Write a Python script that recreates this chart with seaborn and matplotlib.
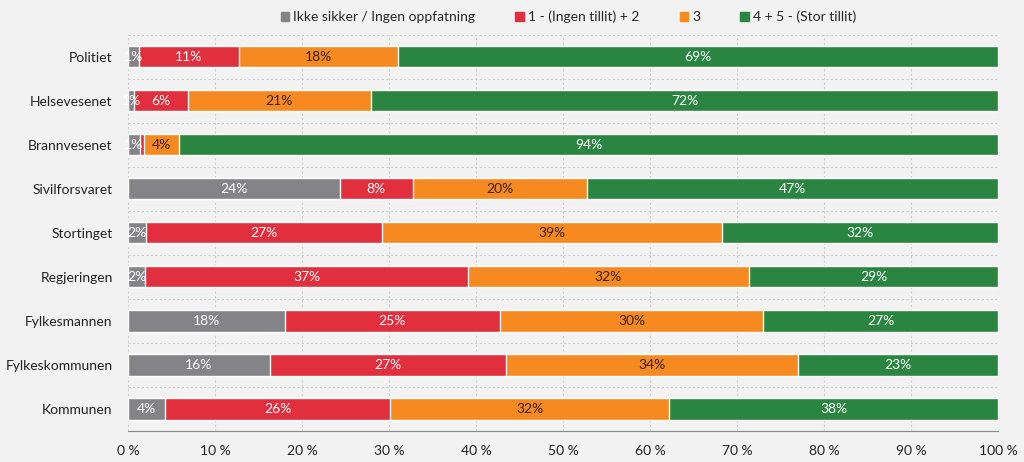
import numpy as np
import matplotlib.pyplot as plt
import pandas as pd
import seaborn as sns
from matplotlib.patches import Patch

categories = ['Politiet', 'Helsevesenet', 'Brannvesenet', 'Sivilforsvaret', 'Stortinget',
              'Regjeringen', 'Fylkesmannen', 'Fylkeskommunen', 'Kommunen']
ikke_sikker = [1.3, 0.7, 1.35, 24.3, 2.1, 2.0, 18.0, 16.3, 4.3]
lav_tillit = [11.4, 6.2, 0.45, 8.4, 27.1, 37.1, 24.7, 27.1, 25.8]
middels = [18.3, 21.0, 4.1, 20.0, 39.1, 32.2, 30.3, 33.6, 32.1]
stor_tillit = [69.0, 72.1, 94.1, 47.3, 31.7, 28.7, 27.0, 23.0, 37.8]

series = ['Ikke sikker / Ingen oppfatning', '1 - (Ingen tillit) + 2', '3', '4 + 5 - (Stor tillit)']
colors = ['#848488', '#E12F3D', '#F68A20', '#2A8541']
text_colors = ['white', 'white', '#3a2000', 'white']
xticks = [0, 10, 20, 30, 40, 50, 60, 70, 80, 90, 100]

df = pd.DataFrame({'kategori': categories, series[0]: ikke_sikker, series[1]: lav_tillit,
                   series[2]: middels, series[3]: stor_tillit})
cum = df[series].cumsum(axis=1)

sns.set_style('white')
plt.rcParams['font.family'] = ['Lato', 'DejaVu Sans']
bg = '#F2F2F2'

fig, ax = plt.subplots(figsize=(10.24, 4.62), dpi=100)
fig.patch.set_facecolor(bg)
ax.set_facecolor(bg)
fig.subplots_adjust(left=0.125, right=0.975, top=0.925, bottom=0.067)

# stacked bars: draw cumulative totals back to front
for i in range(len(series) - 1, -1, -1):
    sns.barplot(x=cum[series[i]], y=df['kategori'], color=colors[i], width=0.48,
                orient='h', saturation=1, ax=ax, zorder=2)

# labels in the segments
for i, s in enumerate(series):
    left = cum[s] - df[s]
    for j, v in enumerate(df[s]):
        if round(v) == 0:
            continue
        ax.text(left[j] + v / 2, j, f'{round(v)}%', ha='center', va='center',
                color=text_colors[i], fontsize=10, zorder=3)

ax.set_xlim(0, 100)
ax.set_ylim(len(categories) - 0.5, -0.5)
ax.set_xticks(xticks)
ax.set_xticklabels([f'{t} %' for t in xticks], fontsize=10, color='#222222')
ax.set_yticks(range(len(categories)))
ax.set_yticklabels(categories, fontsize=10, color='#222222')
ax.set_yticks(np.arange(-0.5, len(categories), 1), minor=True)
ax.set_xlabel('')
ax.set_ylabel('')

ax.grid(axis='x', which='major', color='#cfcfcf', linestyle=(0, (2, 2)), linewidth=0.8, zorder=0)
ax.grid(axis='y', which='minor', color='#cfcfcf', linestyle=(0, (2, 2)), linewidth=0.8, zorder=0)
ax.set_axisbelow(True)
for side in ['top', 'right', 'left']:
    ax.spines[side].set_visible(False)
ax.spines['bottom'].set_color('#8c8c8c')
ax.tick_params(axis='x', which='major', direction='out', length=4, color='#8c8c8c', pad=6)
ax.tick_params(axis='y', which='both', length=0, pad=11)

handles = [Patch(facecolor=c, edgecolor=c) for c in colors]
fig.legend(handles, series, loc='center', bbox_to_anchor=(0.555, 0.963), ncol=4,
           frameon=False, fontsize=10, handlelength=0.6, handleheight=0.6,
           handletextpad=0.3, columnspacing=2.9)

plt.savefig('out.png', dpi=100, facecolor=bg)
